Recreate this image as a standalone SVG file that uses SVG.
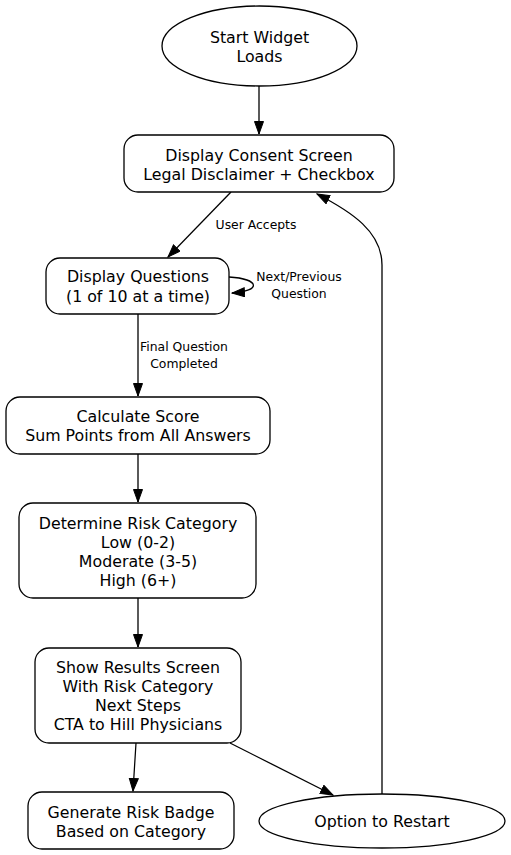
<svg xmlns="http://www.w3.org/2000/svg" width="511" height="855" viewBox="0 0 511 855">
<style>
.n{fill:#fff;stroke:#000;stroke-width:1.3}
.t{font-family:"DejaVu Sans",sans-serif;font-size:15.8px;fill:#000;text-anchor:middle}
.l{font-family:"DejaVu Sans",sans-serif;font-size:12.4px;fill:#000;text-anchor:middle}
.e{fill:none;stroke:#000;stroke-width:1.3}
</style>
<defs>
<marker id="a" markerUnits="userSpaceOnUse" markerWidth="14" markerHeight="12" refX="13" refY="5" orient="auto">
<path d="M0.5,0.5 L13,5 L0.5,9.5 z" fill="#000" stroke="#000" stroke-width="1"/>
</marker>
</defs>
<rect width="511" height="855" fill="#fff"/>
<g id="edges">
<path class="e" d="M259,86 L259,134" marker-end="url(#a)"/>
<path class="e" d="M231,192 L168,257" marker-end="url(#a)"/>
<text class="l" x="256" y="229">User Accepts</text>
<path class="e" d="M229,277 C260,279 262,291 232,293" marker-end="url(#a)"/>
<text class="l" x="299" y="281">Next/Previous</text>
<text class="l" x="299" y="298">Question</text>
<path class="e" d="M138,314 L138,396" marker-end="url(#a)"/>
<text class="l" x="184" y="351">Final Question</text>
<text class="l" x="184" y="368">Completed</text>
<path class="e" d="M138,454 L138,502" marker-end="url(#a)"/>
<path class="e" d="M138,598 L138,647" marker-end="url(#a)"/>
<path class="e" d="M136,743 L133,791" marker-end="url(#a)"/>
<path class="e" d="M230,743 L333,795" marker-end="url(#a)"/>
<path class="e" d="M382,794 L382,265 C382,232 352,212 317,194" marker-end="url(#a)"/>
</g>
<g id="start">
<ellipse class="n" cx="259.5" cy="46" rx="97.5" ry="40"/>
<text class="t" x="259.5" y="43">Start Widget</text>
<text class="t" x="259.5" y="62">Loads</text>
</g>
<g id="consent">
<rect class="n" x="124" y="135" width="270" height="57" rx="14"/>
<text class="t" x="259" y="161">Display Consent Screen</text>
<text class="t" x="259" y="180">Legal Disclaimer + Checkbox</text>
</g>
<g id="questions">
<rect class="n" x="46" y="258" width="183" height="56" rx="14"/>
<text class="t" x="138" y="282">Display Questions</text>
<text class="t" x="138" y="302">(1 of 10 at a time)</text>
</g>
<g id="calc">
<rect class="n" x="6" y="397" width="264" height="57" rx="14"/>
<text class="t" x="138" y="422">Calculate Score</text>
<text class="t" x="138" y="441">Sum Points from All Answers</text>
</g>
<g id="determine">
<rect class="n" x="19" y="503" width="237" height="95" rx="14"/>
<text class="t" x="138" y="529">Determine Risk Category</text>
<text class="t" x="138" y="548">Low (0-2)</text>
<text class="t" x="138" y="567">Moderate (3-5)</text>
<text class="t" x="138" y="586">High (6+)</text>
</g>
<g id="results">
<rect class="n" x="35" y="648" width="206" height="95" rx="14"/>
<text class="t" x="138" y="673">Show Results Screen</text>
<text class="t" x="138" y="692">With Risk Category</text>
<text class="t" x="138" y="711">Next Steps</text>
<text class="t" x="138" y="730">CTA to Hill Physicians</text>
</g>
<g id="badge">
<rect class="n" x="28" y="792" width="206" height="57" rx="14"/>
<text class="t" x="131" y="818">Generate Risk Badge</text>
<text class="t" x="131" y="837">Based on Category</text>
</g>
<g id="restart">
<ellipse class="n" cx="382" cy="821" rx="123" ry="27"/>
<text class="t" x="382" y="827">Option to Restart</text>
</g>
</svg>
